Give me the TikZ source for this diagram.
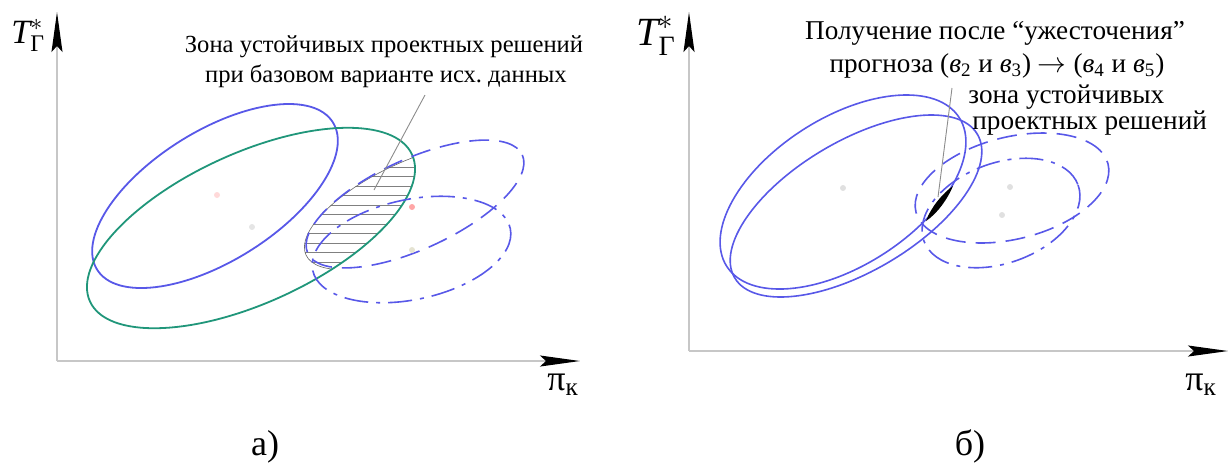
\documentclass[tikz,border=0pt]{standalone}
\usepackage{amsmath}
\usepackage{fontspec}
\setmainfont{Liberation Serif}
\usetikzlibrary{arrows.meta}
\definecolor{ellblue}{RGB}{88,88,232}
\definecolor{ellgreen}{RGB}{32,150,122}

\begin{document}
\begin{tikzpicture}[x=0.5pt, y=-0.5pt]
        % Style definitions
        \tikzset{
            axis/.style={draw=black!22, line width=0.7pt, -{Stealth[length=20pt, width=5.5pt, inset=3pt, black]}},
            solidell/.style={draw=ellblue, line width=0.8pt},
            greenell/.style={draw=ellgreen, line width=0.9pt},
            dashell/.style={draw=ellblue, line width=0.8pt, dash pattern=on 10pt off 5pt},
            dotell/.style={draw=ellblue, line width=0.8pt, dash pattern=on 12pt off 4pt on 2pt off 4pt},
            hatchline/.style={draw=black!50, line width=0.5pt},
            leader/.style={draw=black!45, line width=0.45pt},
            dotmark/.style={circle, inner sep=0pt, minimum size=3pt},
            lblA/.style={inner sep=0pt, font=\fontsize{12.3}{15}\selectfont},
            lblB/.style={inner sep=0pt, font=\fontsize{13.6}{16}\selectfont},
            axlbl/.style={inner sep=0pt, anchor=base west},
            caption/.style={inner sep=0pt, anchor=base, font=\fontsize{18}{18}\selectfont}
        }
        \useasboundingbox (0,0) rectangle (1231,463);

        % Panel a: axes
        \coordinate (oA) at (57,361);
        \coordinate (xA) at (580,361);
        \coordinate (yA) at (57,12);
        \draw[axis] (oA) -- (xA);
        \draw[axis] (oA) -- (yA);
        \node[axlbl, font=\fontsize{17}{17}\selectfont] (tA) at (11,43) {$\textit{T}_{\text{Г}}^{*}$};
        \node[axlbl, font=\fontsize{18}{18}\selectfont] (piA) at (547,390) {π\textsubscript{к}};

        % Panel a: hatched zone
        \begin{scope}
            \clip (251,228) ellipse[x radius=177, y radius=75, rotate=24.5];
            \clip (413,206) ellipse[x radius=118, y radius=45, rotate=24.6];
            \foreach \yy in {148,157.5,...,275}
                \draw[hatchline] (290,\yy) -- (430,\yy);
            \draw[black!60, line width=0.6pt] (413,206) ellipse[x radius=118, y radius=45, rotate=24.6];
        \end{scope}

        % Panel a: ellipses
        \draw[solidell, line width=0.9pt] (215,196) ellipse[x radius=139, y radius=65, rotate=32];
        \draw[greenell] (251,228) ellipse[x radius=177, y radius=75, rotate=24.5];
        \draw[dashell] (415,204) ellipse[x radius=118, y radius=45, rotate=24.6];
        \draw[dotell] (411.5,249.5) ellipse[x radius=101, y radius=50, rotate=12];

        \node[dotmark, fill=red!15] (cA1) at (217,195) {};
        \node[dotmark, fill=black!10] (cA2) at (252,227) {};
        \node[dotmark, fill=red!35] (cA3) at (412,207) {};
        \node[dotmark, fill=yellow!40!black!20] (cA4) at (412,250) {};

        % Panel a: label
        \node[lblA, anchor=base] (zoneA1) at (384,52) {Зона устойчивых проектных решений};
        \node[lblA, anchor=base] (zoneA2) at (386,82) {при базовом варианте исх.\ данных};
        \coordinate (leadA) at (425,95);
        \coordinate (spotA) at (374,190);
        \draw[leader] (leadA) -- (spotA);

        \node[caption] (capA) at (265,455) {а)};

        % Panel b: axes
        \coordinate (oB) at (689,351);
        \coordinate (xB) at (1228,351);
        \coordinate (yB) at (689,12);
        \draw[axis] (oB) -- (xB);
        \draw[axis] (oB) -- (yB);
        \node[axlbl, font=\fontsize{20}{20}\selectfont] (tB) at (636,45) {$\textit{T}_{\text{Г}}^{*}$};
        \node[axlbl, font=\fontsize{18}{18}\selectfont] (piB) at (1185,390) {π\textsubscript{к}};

        % Panel b: ellipses
        \draw[solidell] (843,192) ellipse[x radius=138, y radius=74, rotate=32.6];
        \draw[solidell] (856,206) ellipse[x radius=141, y radius=65, rotate=30.6];
        \draw[dashell] (1012,188) ellipse[x radius=99, y radius=51, rotate=14];
        \draw[dotell] (1001,213) ellipse[x radius=82, y radius=50, rotate=20];

        \node[dotmark, fill=black!12] (cB1) at (843,188) {};
        \node[dotmark, fill=black!12] (cB2) at (1010,187) {};
        \node[dotmark, fill=black!12] (cB3) at (1002,215) {};

        % Panel b: narrow zone
        \fill[black] (926,221) .. controls (931,207) and (943,193) .. (953,186)
            .. controls (948,198) and (938,213) .. cycle;

        % Panel b: labels
        \node[lblB, anchor=base] (gainB1) at (995,39) {Получение после ``ужесточения''};
        \node[lblB, anchor=base] (gainB2) at (997,72) {прогноза (\textit{в}\textsubscript{2} и \textit{в}\textsubscript{3}) $\rightarrow$ (\textit{в}\textsubscript{4} и \textit{в}\textsubscript{5})};
        \node[lblB, anchor=base west] (zoneB1) at (968,103) {зона устойчивых};
        \node[lblB, anchor=base west] (zoneB2) at (972,129) {проектных решений};
        \coordinate (leadB) at (952,88);
        \coordinate (spotB) at (938,197);
        \draw[leader] (leadB) -- (spotB);

        \node[caption] (capB) at (970,455) {б)};
\end{tikzpicture}
\end{document}
